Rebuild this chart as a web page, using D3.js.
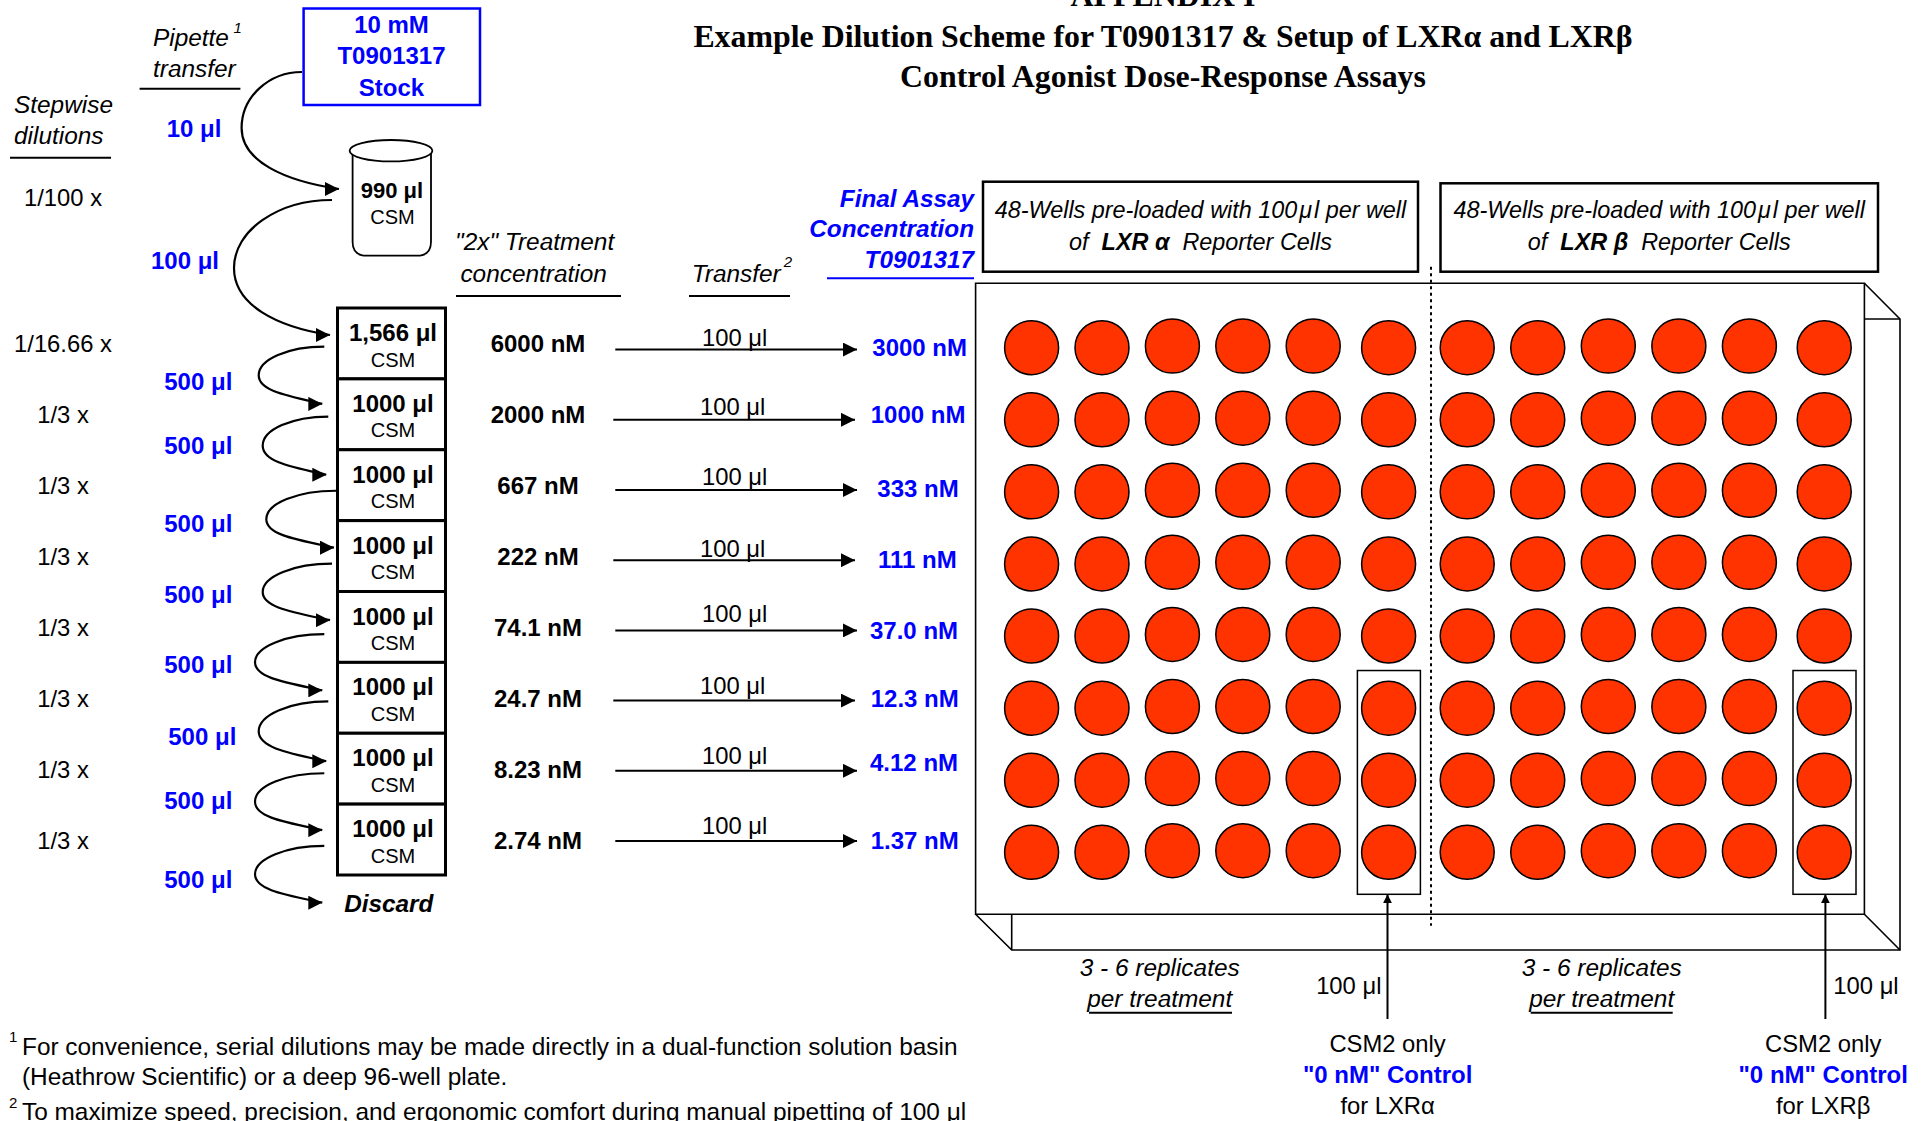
<!DOCTYPE html>
<html>
<head>
<meta charset="utf-8">
<style>
  body { margin: 0; background: #fff; }
  text { font-family: "Liberation Sans", Arial, sans-serif; font-size: 23.8px; fill: #000; }
  .i { font-style: italic; font-size: 24.4px; }
  .b { font-weight: bold; font-size: 24px; }
  .b.i { font-size: 24.3px; }
  .well-note { font-style: italic; font-size: 23.4px; }
  .foot { font-size: 24.4px; }
  .blue { fill: #0000ff; }
  .serif { font-family: "Liberation Serif", serif; font-weight: bold; font-size: 31.85px; }
  .csm { font-size: 20px; }
  .sup { font-size: 15px; }
</style>
<script src="https://d3js.org/d3.v7.min.js"></script>
</head>
<body>
<div id="chart"></div>
<script>
// values
const stepDilutions = ["1/16.66 x", "1/3 x", "1/3 x", "1/3 x", "1/3 x", "1/3 x", "1/3 x", "1/3 x"];
const ladderVolumes = ["1,566 μl", "1000 μl", "1000 μl", "1000 μl", "1000 μl", "1000 μl", "1000 μl", "1000 μl"];
const serialTransfers = ["500 μl", "500 μl", "500 μl", "500 μl", "500 μl", "500 μl", "500 μl", "500 μl"];
const treatmentConc = ["6000 nM", "2000 nM", "667 nM", "222 nM", "74.1 nM", "24.7 nM", "8.23 nM", "2.74 nM"];
const transferVolumes = ["100 μl", "100 μl", "100 μl", "100 μl", "100 μl", "100 μl", "100 μl", "100 μl"];
const finalConc = ["3000 nM", "1000 nM", "333 nM", "111 nM", "37.0 nM", "12.3 nM", "4.12 nM", "1.37 nM"];
const plateColumns = [0, 1, 2, 3, 4, 5];
const controlRows = ["12.3 nM", "4.12 nM", "1.37 nM"];
const receptors = ["α", "β"];

const width = 1927, height = 1121;
const rowIdx = d3.range(8);

const svg = d3.select("#chart").append("svg")
  .attr("width", width).attr("height", height)
  .attr("viewBox", [0, 0, width, height]);

const defs = svg.append("defs");
function marker(id, size, orient) {
  defs.append("marker").attr("id", id)
    .attr("markerUnits", "userSpaceOnUse")
    .attr("viewBox", [0, 0, 14, 14])
    .attr("refX", 14).attr("refY", 7)
    .attr("markerWidth", size).attr("markerHeight", size)
    .attr("orient", orient)
    .append("path").attr("d", "M0,0L14,7L0,14Z").attr("fill", "#000");
}
marker("head", 14, "auto");
marker("headFlat", 14, "0");
marker("headSmall", 9, "auto");

// scales
const ladderY = d3.scaleBand().domain(rowIdx).range([308, 875]);
const textY = d3.scalePoint().domain(rowIdx).range([352, 848.6]);
const arrowY = d3.scalePoint().domain(rowIdx).range([349.6, 841]);
const wellY = d3.scalePoint().domain(finalConc).range([347.7, 852.3]);
// last column of each half sits a bit further out
const wellX = {
  "α": d3.scaleLinear().domain([0, 4, 5]).range([1031.6, 1313.2, 1388.6]),
  "β": d3.scaleLinear().domain([0, 4, 5]).range([1467.2, 1749.4, 1824.2])
};

function label(x, y, str, cls, anchor) {
  return svg.append("text").attr("x", x).attr("y", y)
    .attr("text-anchor", anchor || "middle")
    .attr("class", cls || "").text(str);
}
function rule(x1, x2, y, w) {
  svg.append("line").attr("x1", x1).attr("x2", x2).attr("y1", y).attr("y2", y)
    .attr("stroke", "#000").attr("stroke-width", w || 2);
}
function poly(d, w) {
  svg.append("path").attr("d", d).attr("fill", "none")
    .attr("stroke", "#000").attr("stroke-width", w || 1.6);
}

// curved transfer: leaves s, bulges left to reach l, comes back to t
function loop(s, l, t) {
  const k = 0.5523, p = d3.path();
  p.moveTo(s[0], s[1]);
  p.bezierCurveTo(s[0] - k * (s[0] - l[0]), s[1], l[0], l[1] - k * (l[1] - s[1]), l[0], l[1]);
  p.bezierCurveTo(l[0], l[1] + k * (t[1] - l[1]), t[0] - k * (t[0] - l[0]), t[1] - 8, t[0], t[1]);
  svg.append("path").attr("d", p.toString()).attr("fill", "none")
    .attr("stroke", "#000").attr("stroke-width", 2.2)
    .attr("marker-end", "url(#headFlat)");
}

// title
label(1163, 6, "APPENDIX I", "serif");
label(1163, 46.5, "Example Dilution Scheme for T0901317 & Setup of LXRα and LXRβ", "serif");
label(1163, 86.5, "Control Agonist Dose-Response Assays", "serif");

// column headers
label(14, 113, "Stepwise", "i", "start");
label(14, 144, "dilutions", "i", "start");
rule(10, 111, 157.7);
label(153, 46, "Pipette", "i", "start");
label(233.5, 33, "1", "i sup", "start");
label(153, 77, "transfer", "i", "start");
rule(139.6, 240.4, 88.7);
label(455, 250, "\"2x\" Treatment", "i", "start");
label(460.4, 281.7, "concentration", "i", "start");
rule(456, 621, 296);
label(691.7, 281.7, "Transfer", "i", "start");
label(783.7, 266.7, "2", "i sup", "start");
rule(689, 790, 296);
label(974, 206.7, "Final Assay", "b i blue", "end");
label(974, 236.7, "Concentration", "b i blue", "end");
label(974, 267.7, "T0901317", "b i blue", "end");
svg.append("line").attr("x1", 827).attr("x2", 974).attr("y1", 278.3).attr("y2", 278.3)
  .attr("stroke", "#0000ff").attr("stroke-width", 2);

// stock box
svg.append("rect").attr("x", 303.6).attr("y", 8.5).attr("width", 176.4).attr("height", 96.5)
  .attr("fill", "#fff").attr("stroke", "#0000ff").attr("stroke-width", 2.5);
label(391.5, 33, "10 mM", "b blue");
label(391.5, 64.3, "T0901317", "b blue");
label(391.5, 95.7, "Stock", "b blue");

// beaker
poly("M352.6,150.7V241.7Q352.6,255.7 366.6,255.7H417Q431,255.7 431,241.7V150.7", 1.8);
svg.append("ellipse").attr("cx", 391).attr("cy", 150.7).attr("rx", 41.4).attr("ry", 10.7)
  .attr("fill", "#fff").attr("stroke", "#000").attr("stroke-width", 1.8);
label(392, 198.3, "990 μl", "b").style("font-size", "22px");
label(392.5, 224, "CSM", "csm");
label(63, 205.7, "1/100 x");

// first two big transfers
label(194, 136.7, "10 μl", "b blue");
label(185, 269, "100 μl", "b blue");
loop([302, 72], [241.6, 128], [339, 189]);
loop([332, 200], [234, 268], [330, 335]);

// dilution ladder
svg.selectAll("rect.well-tube").data(ladderVolumes).join("rect")
  .attr("class", "well-tube")
  .attr("x", 337.5).attr("width", 108)
  .attr("y", (d, i) => ladderY(i)).attr("height", ladderY.bandwidth())
  .attr("fill", "#fff").attr("stroke", "#000").attr("stroke-width", 3);
svg.selectAll("text.vol").data(ladderVolumes).join("text")
  .attr("class", "vol b").attr("text-anchor", "middle")
  .attr("x", 393).attr("y", (d, i) => ladderY(i) + 33).text(d => d);
svg.selectAll("text.csmT").data(ladderVolumes).join("text")
  .attr("class", "csmT csm").attr("text-anchor", "middle")
  .attr("x", 393).attr("y", (d, i) => ladderY(i) + 58.5).text("CSM");
svg.selectAll("text.step").data(stepDilutions).join("text")
  .attr("class", "step").attr("text-anchor", "middle")
  .attr("x", 63).attr("y", (d, i) => textY(i)).text(d => d);

// serial transfers down the ladder (nudges as they sit in the picture)
const loopLeft = [258.7, 262.7, 266.3, 262.7, 255, 258.7, 255, 255];
const loopTip = [322.3, 326.3, 334, 330, 322.3, 326.3, 322.3, 322.3];
const loopStartDy = [38.7, 37.7, 41, 43, 42.7, 39, 40, 41.7];
const loopEndDy = [25, 25, 27, 28.7, 28, 28, 26, 27.7];
const loopLabelDy = [11, 4, 11, 11, 11, 11.7, 5, 13];
const loopLabelDx = [0, 0, 0, 0, 0, 4, 0, 0];
const nextTop = i => ladderY(0) + (i + 1) * ladderY.step();
serialTransfers.forEach((d, i) => {
  const sy = ladderY(i) + loopStartDy[i], ty = nextTop(i) + loopEndDy[i];
  loop([loopTip[i] + 2, sy], [loopLeft[i], (sy + ty) / 2], [loopTip[i], ty]);
  label(198.3 + loopLabelDx[i], nextTop(i) + loopLabelDy[i], d, "b blue");
});
label(388.7, 911.7, "Discard", "b i");

// treatment -> final assay
const arrowDx = [0, -2, 0, -2, 0, -2, 0, 0];
const labelDy = [3.6, 5, 5.3, 3.6, 8.6, 6.4, 6.4, 6.7];
const finalX = [872.3, 870.7, 877.3, 878, 870, 870.7, 870, 870.7];
const finalDy = [3.7, 0, 3.5, 3.5, 3.5, 0, -6.5, 0];
svg.selectAll("text.treat").data(treatmentConc).join("text")
  .attr("class", "treat b").attr("text-anchor", "middle")
  .attr("x", 538).attr("y", (d, i) => textY(i)).text(d => d);
svg.selectAll("line.xfer").data(transferVolumes).join("line")
  .attr("class", "xfer")
  .attr("x1", (d, i) => 615.3 + arrowDx[i]).attr("x2", (d, i) => 857 + arrowDx[i])
  .attr("y1", (d, i) => arrowY(i)).attr("y2", (d, i) => arrowY(i))
  .attr("stroke", "#000").attr("stroke-width", 2)
  .attr("marker-end", "url(#head)");
svg.selectAll("text.xferL").data(transferVolumes).join("text")
  .attr("class", "xferL").attr("text-anchor", "middle")
  .attr("x", (d, i) => 734.7 + arrowDx[i]).attr("y", (d, i) => arrowY(i) - labelDy[i]).text(d => d);
svg.selectAll("text.final").data(finalConc).join("text")
  .attr("class", "final b blue").attr("text-anchor", "start")
  .attr("x", (d, i) => finalX[i]).attr("y", (d, i) => textY(i) + finalDy[i]).text(d => d);

// reporter cell boxes
const boxX = { "α": [983, 1418, 181.7], "β": [1440.5, 1878, 183.3] };
receptors.forEach(r => {
  const [x0, x1, y0] = boxX[r], cx = (x0 + x1) / 2;
  svg.append("rect").attr("x", x0).attr("y", y0).attr("width", x1 - x0).attr("height", 271.7 - y0)
    .attr("fill", "#fff").attr("stroke", "#000").attr("stroke-width", 2.5);
  label(cx, 218, "48-Wells pre-loaded with 100\u200aμ\u200al per well", "well-note");
  const t = label(cx, 250, "", "well-note");
  t.append("tspan").text("of\u00a0\u00a0");
  t.append("tspan").style("font-weight", "bold").text("LXR\u00a0");
  t.append("tspan").style("font-weight", "bold").text(r);
  t.append("tspan").text("\u00a0\u00a0Reporter Cells");
});

// plate outline
poly("M975.6,283.3H1864.4V914.3H975.6Z");
poly("M1864.4,283.3L1900,319V950H1011.7L975.6,914.3");
poly("M1864.4,319H1900M1864.4,914.3L1900,950M1011.7,914.3V950");
svg.append("line").attr("x1", 1431).attr("x2", 1431).attr("y1", 266.7).attr("y2", 925.7)
  .attr("stroke", "#000").attr("stroke-width", 2).attr("stroke-dasharray", "3 3.5");

// wells
const controlArrowX = { "α": 1387.5, "β": 1825.4 };
receptors.forEach(r => {
  const g = svg.append("g");
  finalConc.forEach(row => {
    g.selectAll(null).data(plateColumns).enter().append("circle")
      .attr("cx", c => wellX[r](c))
      .attr("cy", c => wellY(row) + (c >= 2 && c <= 4 ? -1.6 : 0))
      .attr("r", 27)
      .attr("fill", "#ff3300").attr("stroke", "#000").attr("stroke-width", 1.5);
  });
  // 0 nM control frame around the last three wells of the end column
  const cx = wellX[r](5);
  svg.append("rect").attr("x", cx - 31.2).attr("width", 63)
    .attr("y", wellY(controlRows[0]) - 37.6)
    .attr("height", wellY(controlRows[2]) - wellY(controlRows[0]) + 79.6)
    .attr("fill", "none").attr("stroke", "#000").attr("stroke-width", 1.5);
  svg.append("line").attr("x1", controlArrowX[r]).attr("x2", controlArrowX[r]).attr("y1", 1019).attr("y2", 894.3)
    .attr("stroke", "#000").attr("stroke-width", 2).attr("marker-end", "url(#headSmall)");
  label(cx - 1, 1051.7, "CSM2 only");
  label(cx - 1, 1083.3, "\"0 nM\" Control", "b blue");
  label(cx - 1, 1114, "for LXR" + r);
});
label(1348.8, 994.3, "100 μl");
label(1866, 994, "100 μl");

// replicates notes
[[1159.7, 1089, 1232], [1601.7, 1530.7, 1672.7]].forEach(n => {
  label(n[0], 975.7, "3 - 6 replicates", "i");
  label(n[0], 1006.7, "per treatment", "i");
  rule(n[1], n[2], 1012.7);
});

// footnotes
label(9, 1041.7, "1", "sup", "start");
label(22, 1055, "For convenience, serial dilutions may be made directly in a dual-function solution basin", "foot", "start");
label(22, 1085, "(Heathrow Scientific) or a deep 96-well plate.", "foot", "start");
label(9, 1108, "2", "sup", "start");
label(22, 1120, "To maximize speed, precision, and ergonomic comfort during manual pipetting of 100 μl", "foot", "start");
</script>
</body>
</html>
